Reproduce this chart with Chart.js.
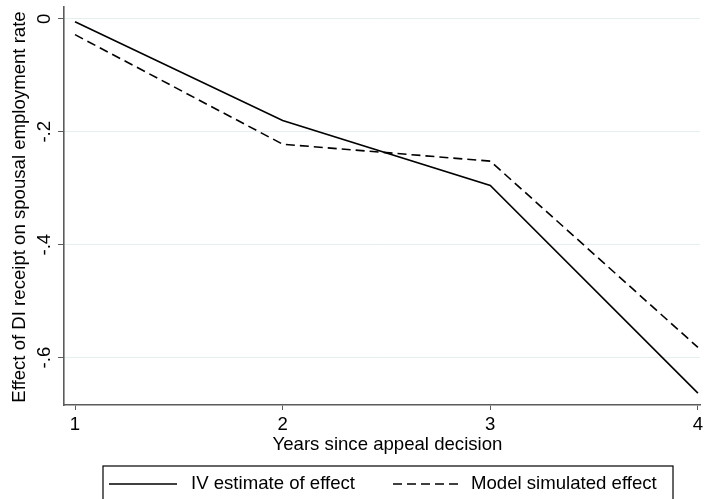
<!DOCTYPE html>
<html>
<head>
<meta charset="utf-8">
<script src="https://cdn.jsdelivr.net/npm/chart.js@4.4.1/dist/chart.umd.min.js"></script>
<style>
  html, body { margin: 0; padding: 0; background: #fff; }
  #wrap { width: 704px; height: 499px; }
</style>
</head>
<body>
<div id="wrap"><canvas id="c" width="704" height="499"></canvas></div>
<script>
// data
const years = [1, 2, 3, 4];
const ivEstimate = [-0.005, -0.18, -0.295, -0.663];
const modelSimulated = [-0.028, -0.222, -0.252, -0.582];

const xTicks = [1, 2, 3, 4];
const yTicks = [0, -0.2, -0.4, -0.6];
const yTickLabels = ['0', '-.2', '-.4', '-.6'];

const xTitle = 'Years since appeal decision';
const yTitle = 'Effect of DI receipt on spousal employment rate';
const legendLabels = ['IV estimate of effect', 'Model simulated effect'];

const FONT = '18.6px "Liberation Sans", Arial, Helvetica, sans-serif';
const AXIS_COLOR = '#5b5b5b';

// texte + legende a la Stata
const stataText = {
    id: 'stataText',
    afterDraw(chart) {
        const ctx = chart.ctx;
        const xs = chart.scales.x, ys = chart.scales.y;
        const area = chart.chartArea;
        ctx.save();
        ctx.fillStyle = '#000';
        ctx.font = FONT;

        // y tick labels, rotated
        yTicks.forEach((v, i) => {
            ctx.save();
            ctx.translate(45, ys.getPixelForValue(v));
            ctx.rotate(-Math.PI / 2);
            ctx.textAlign = 'center';
            ctx.textBaseline = 'middle';
            ctx.fillText(yTickLabels[i], 0, 0);
            ctx.restore();
        });

        // y title
        ctx.save();
        ctx.translate(20, (area.top + area.bottom) / 2 + 1);
        ctx.rotate(-Math.PI / 2);
        ctx.textAlign = 'center';
        ctx.textBaseline = 'middle';
        ctx.fillText(yTitle, 0, 0);
        ctx.restore();

        // x tick labels
        ctx.textAlign = 'center';
        ctx.textBaseline = 'middle';
        xTicks.forEach(v => {
            ctx.fillText(String(v), xs.getPixelForValue(v), 425);
        });

        // x title
        ctx.fillText(xTitle, (xs.getPixelForValue(1) + xs.getPixelForValue(4)) / 2 + 1, 445);

        // legend box
        ctx.strokeStyle = '#000';
        ctx.lineWidth = 1.2;
        ctx.strokeRect(103, 466, 570, 40);

        ctx.lineWidth = 1.6;
        ctx.beginPath();
        ctx.moveTo(109, 484);
        ctx.lineTo(177, 484);
        ctx.stroke();
        ctx.setLineDash([9, 5]);
        ctx.beginPath();
        ctx.moveTo(393, 484);
        ctx.lineTo(460, 484);
        ctx.stroke();
        ctx.setLineDash([]);

        ctx.textAlign = 'left';
        ctx.fillText(legendLabels[0], 191, 484);
        ctx.fillText(legendLabels[1], 471, 484);
        ctx.restore();
    }
};

new Chart(document.getElementById('c'), {
    type: 'line',
    data: {
        datasets: [
            {
                label: legendLabels[0],
                data: years.map((x, i) => ({ x: x, y: ivEstimate[i] })),
                borderColor: '#000',
                borderWidth: 1.6,
                pointRadius: 0,
                tension: 0,
                fill: false
            },
            {
                label: legendLabels[1],
                data: years.map((x, i) => ({ x: x, y: modelSimulated[i] })),
                borderColor: '#000',
                borderWidth: 1.6,
                borderDash: [9, 5],
                pointRadius: 0,
                tension: 0,
                fill: false
            }
        ]
    },
    options: {
        responsive: false,
        animation: false,
        devicePixelRatio: 1,
        layout: { padding: { left: 0, top: 7, right: 4, bottom: 0 } },
        plugins: { legend: { display: false }, tooltip: { enabled: false } },
        scales: {
            x: {
                type: 'linear',
                min: 0.947,
                max: 4.01,
                afterBuildTicks: s => { s.ticks = xTicks.map(v => ({ value: v })); },
                afterFit: s => { s.height = 94; },
                ticks: { display: false },
                grid: {
                    color: 'rgba(0,0,0,0)',
                    drawTicks: true,
                    tickLength: 5,
                    tickColor: AXIS_COLOR,
                    tickWidth: 1
                },
                border: { color: AXIS_COLOR, width: 1.6 }
            },
            y: {
                min: -0.684,
                max: 0.021,
                afterBuildTicks: s => { s.ticks = yTicks.map(v => ({ value: v })); },
                afterFit: s => { s.width = 64; },
                ticks: { display: false },
                grid: {
                    color: '#e6eff0',
                    lineWidth: 1,
                    drawTicks: true,
                    tickLength: 6,
                    tickColor: AXIS_COLOR,
                    tickWidth: 1
                },
                border: { color: AXIS_COLOR, width: 1.6 }
            }
        }
    },
    plugins: [stataText]
});
</script>
</body>
</html>
